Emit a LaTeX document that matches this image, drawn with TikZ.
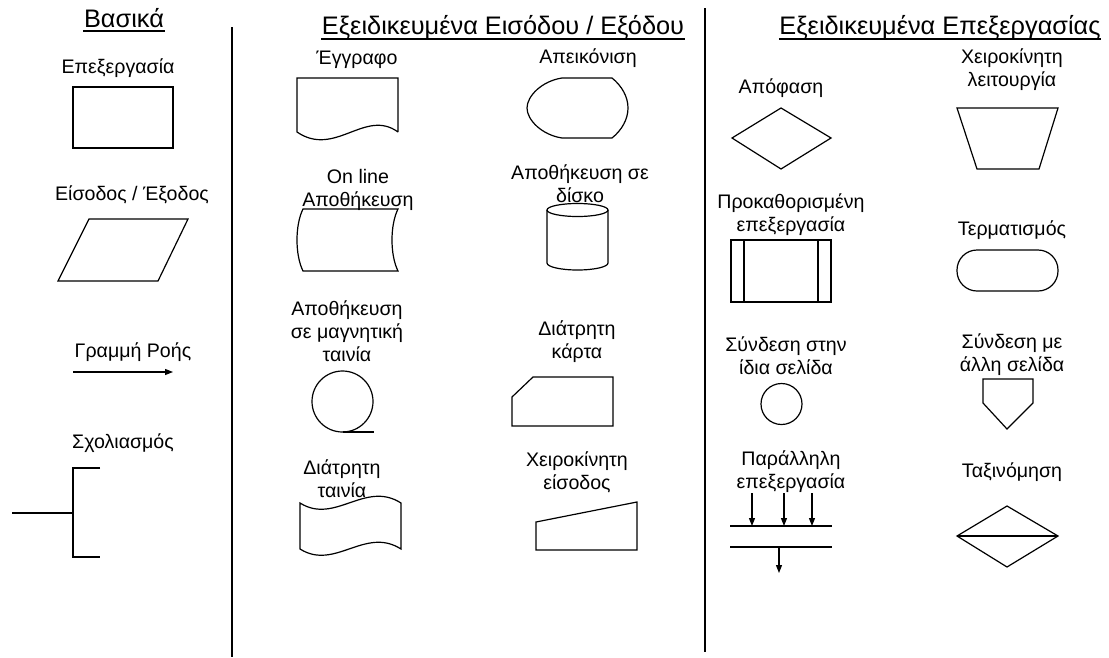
\documentclass[tikz,border=0pt]{standalone}
\usepackage{fontspec}
\setmainfont{Liberation Sans}
\usetikzlibrary{arrows.meta}
\begin{document}
\begin{tikzpicture}[x=0.75pt,y=-0.75pt,line width=0.9pt,font=\fontsize{14.7}{17.3}\selectfont,
  lbl/.style={align=center,inner sep=0pt},
  hdr/.style={inner sep=0pt,font=\fontsize{19}{22}\selectfont},
  flow/.style={-{Triangle[length=6pt,width=4.5pt]}}]
\useasboundingbox (0,0) rectangle (1109,657);
% column rules
\draw[line width=1.5pt] (232,27)--(232,657); \draw[line width=1.5pt] (705,8)--(705,652);
% headers
\node[hdr] (hbas) at (124,18) {Βασικά};
\node[hdr] (hio) at (503,27) {Εξειδικευμένα Εισόδου / Εξόδου};
\node[hdr] (hproc) at (940,28) {Εξειδικευμένα Επεξεργασίας};
\foreach \h/\y in {hbas/31,hio/39,hproc/39} \draw (\h.west |- 0,\y)--(\h.east |- 0,\y);
% basic symbols
\node[lbl] (tproc) at (118,68) {Επεξεργασία};
\draw (73,87) rectangle (173,148);
\node[lbl] (tio) at (132,195) {Είσοδος / Έξοδος};
\draw (89,219)--(188,219)--(158,281)--(58,281)--cycle;
\node[lbl] (tflow) at (133,352) {Γραμμή Ροής};
\coordinate (fla) at (73,372); \coordinate (flb) at (173,372);
\draw[flow] (fla)--(flb);
\node[lbl] (tnote) at (123,443) {Σχολιασμός};
\draw (100,468)--(73,468)--(73,557)--(100,557); \draw (12,513)--(73,513);
% input / output symbols
\node[lbl] (tdoc) at (357,60) {Έγγραφο};
\draw (398,132)--(398,78)--(297,78)--(297,132) .. controls (335,158) and (365,108) .. (398,132);
\node[lbl] (tdisp) at (588,58) {Απεικόνιση};
\draw (562,78)--(612,78) .. controls (622,86) and (628,97) .. (628,108) .. controls (628,119) and (622,130) .. (612,138)
  --(562,138) .. controls (542,135) and (527,120) .. (527,108) .. controls (527,96) and (542,81) .. cycle;
\node[lbl] (tonl) at (358,190) {On line\\Αποθήκευση};
\draw (303,209)--(398,209) .. controls (390,225) and (390,255) .. (398,271)--(303,271) .. controls (295,255) and (295,225) .. cycle;
\node[lbl] (tdisk) at (580,184) {Αποθήκευση σε\\δίσκο};
\draw (577.5,210) ellipse [x radius=30.5,y radius=6.5];
\draw (547,210)--(547,263) arc[start angle=180,end angle=0,x radius=30.5,y radius=7]--(608,210);
\node[lbl] (ttape) at (347,331) {Αποθήκευση\\σε μαγνητική\\ταινία};
\draw (342.5,401.5) circle[radius=30.5]; \draw (342.5,432)--(374,432);
\node[lbl] (tcard) at (577,342) {Διάτρητη\\κάρτα};
\draw (533,377)--(613,377)--(613,426)--(512,426)--(512,397)--cycle;
\node[lbl] (tptape) at (342,479) {Διάτρητη\\ταινία};
\draw (300,503) .. controls (335,525) and (365,480) .. (401,503)--(401,549) .. controls (365,526) and (335,571) .. (300,549)--cycle;
\node[lbl] (tmin) at (577,472) {Χειροκίνητη\\είσοδος};
\draw (536,522)--(637,502)--(637,550)--(536,550)--cycle;
% processing symbols
\node[lbl] (tdec) at (781,88) {Απόφαση};
\draw (732,138)--(781,108)--(831,138)--(781,169)--cycle;
\node[lbl] (tman) at (1012,70) {Χειροκίνητη\\λειτουργία};
\draw (957,108)--(1058,108)--(1039,169)--(977,169)--cycle;
\node[lbl] (tpre) at (791,215) {Προκαθορισμένη\\επεξεργασία};
\draw (731,240) rectangle (831,302); \draw (744,240)--(744,302); \draw (818,240)--(818,302);
\node[lbl] (tterm) at (1012,230) {Τερματισμός};
\draw[rounded corners=15pt] (957,250) rectangle (1058,291);
\node[lbl] (tcon) at (786,356) {Σύνδεση στην\\ίδια σελίδα};
\draw (781.5,404) circle[radius=20.5];
\node[lbl] (toff) at (1012,355) {Σύνδεση με\\άλλη σελίδα};
\draw (983,379)--(1033,379)--(1033,403)--(1007,429)--(983,403)--cycle;
\node[lbl] (tpar) at (791,472) {Παράλληλη\\επεξεργασία};
\draw (730,526)--(832,526); \draw (730,547)--(832,547);
\foreach \x in {752,784,812} {\coordinate (pa\x) at (\x,493); \coordinate (pb\x) at (\x,526); \draw[flow] (pa\x)--(pb\x);}
\coordinate (pout1) at (779,547); \coordinate (pout2) at (779,573); \draw[flow] (pout1)--(pout2);
\node[lbl] (tsort) at (1012,472) {Ταξινόμηση};
\draw (957,536)--(1007,506)--(1058,536)--(1007,567)--cycle; \draw (957,536)--(1058,536);
\end{tikzpicture}
\end{document}
